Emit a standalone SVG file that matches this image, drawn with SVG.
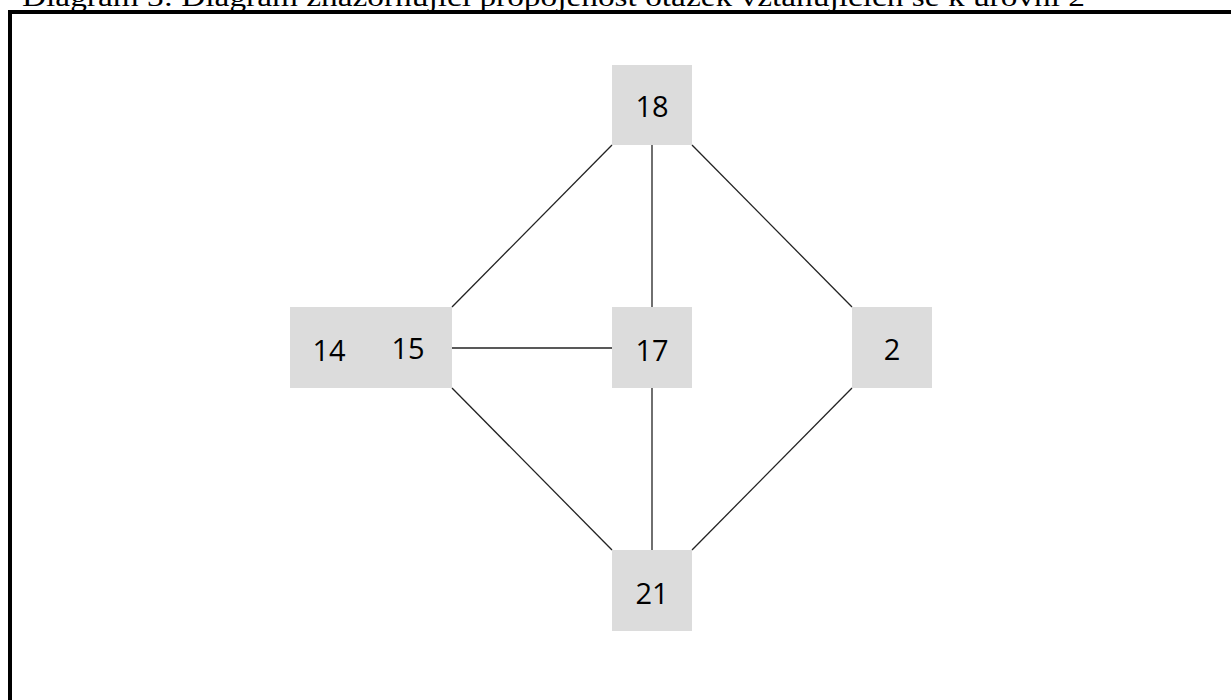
<svg xmlns="http://www.w3.org/2000/svg" width="1231" height="700" viewBox="0 0 1231 700">
<style>
.node rect{fill:#dcdcdc}
.node text{font-family:"Open Sans","Noto Sans",sans-serif;font-size:29px;fill:#000;text-anchor:middle;dominant-baseline:central}
.edge{stroke:#222;stroke-width:1.3;fill:none}
</style>
<rect width="1231" height="700" fill="#fff"/>
<text x="22" y="6" font-family="Liberation Serif, serif" font-size="27" textLength="1063" lengthAdjust="spacingAndGlyphs" fill="#000">Diagram 3: Diagram znázorňující propojenost otázek vztahujících se k úrovni 2</text>
<path d="M10 700 V12 H1240" fill="none" stroke="#000" stroke-width="4"/>
<g id="connectors">
<line class="edge" x1="612" y1="145" x2="452" y2="307"/>
<line class="edge" x1="652" y1="145" x2="652" y2="307"/>
<line class="edge" x1="692" y1="145" x2="852" y2="307"/>
<line class="edge" x1="452" y1="348" x2="612" y2="348"/>
<line class="edge" x1="452" y1="388" x2="612" y2="550"/>
<line class="edge" x1="652" y1="388" x2="652" y2="550"/>
<line class="edge" x1="852" y1="388" x2="692" y2="550"/>
</g>
<g id="n18" class="node"><rect x="612" y="65" width="80" height="80"/><text x="652" y="105">18</text></g>
<g id="n1415" class="node"><rect x="290" y="307" width="162" height="81"/><text x="329" y="349">14</text><text x="408" y="347">15</text></g>
<g id="n17" class="node"><rect x="612" y="307" width="80" height="81"/><text x="652" y="349">17</text></g>
<g id="n2" class="node"><rect x="852" y="307" width="80" height="81"/><text x="892" y="348">2</text></g>
<g id="n21" class="node"><rect x="612" y="550" width="80" height="81"/><text x="652" y="592">21</text></g>
</svg>
